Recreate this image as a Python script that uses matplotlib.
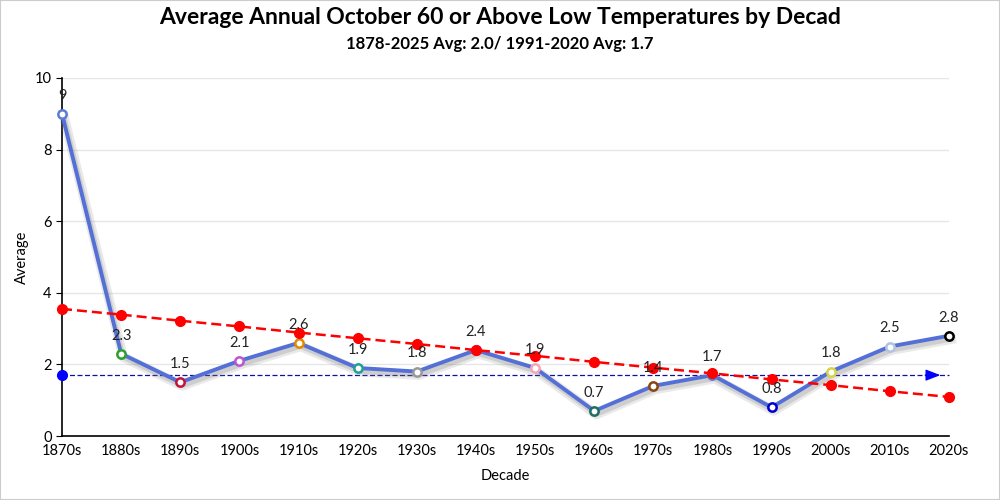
import matplotlib
matplotlib.use("Agg")
import matplotlib.pyplot as plt
import matplotlib.patheffects as pe
from matplotlib.patches import Rectangle

decades = ["1870s", "1880s", "1890s", "1900s", "1910s", "1920s", "1930s", "1940s",
           "1950s", "1960s", "1970s", "1980s", "1990s", "2000s", "2010s", "2020s"]
values = [9, 2.3, 1.5, 2.1, 2.6, 1.9, 1.8, 2.4, 1.9, 0.7, 1.4, 1.7, 0.8, 1.8, 2.5, 2.8]
trend = [3.55, 3.39, 3.22, 3.06, 2.89, 2.73, 2.57, 2.40, 2.24, 2.07, 1.91, 1.75,
         1.58, 1.42, 1.25, 1.09]
normal_avg = 1.7
marker_colors = ["#5b7bd5", "#2ca02c", "#c0143c", "#ba55d3", "#e08a00", "#20a090",
                 "#999999", "#5b7bd5", "#f4a6b8", "#1f6f5f", "#8b4513", "#5b7bd5",
                 "#0000cd", "#d6d645", "#b0c4de", "#000000"]

plt.rcParams['font.family'] = ['Lato', 'DejaVu Sans']

fig = plt.figure(figsize=(10, 5), dpi=100)
fig.patches.append(Rectangle((0, 0), 1, 1, transform=fig.transFigure, fill=False,
                             edgecolor="#cccccc", linewidth=1.5))
ax = fig.add_axes([0.062, 0.128, 0.887, 0.716])

x = list(range(len(decades)))

ax.set_xlim(0, len(decades) - 1)
ax.set_ylim(0, 10)
ax.set_yticks([0, 2, 4, 6, 8, 10])
ax.set_xticks(x)
ax.set_xticklabels(decades)
ax.tick_params(axis='x', length=0, labelsize=10.5, pad=6)
ax.tick_params(axis='y', length=4, labelsize=10.5)
ax.yaxis.grid(True, color="#e6e6e6", linewidth=1)
ax.set_axisbelow(True)
for s in ["top", "right"]:
    ax.spines[s].set_visible(False)
ax.spines["left"].set_linewidth(1.2)
ax.spines["bottom"].set_linewidth(1.2)

# normal average line
ax.plot([x[0], x[-1]], [normal_avg, normal_avg], color="#1010a0", linestyle=(0, (4, 2)),
        linewidth=0.9, zorder=2, clip_on=False)
ax.plot([x[0]], [normal_avg], 'o', color="#0000ff", markersize=7, zorder=3, clip_on=False)
ax.annotate("", xy=(x[-1] - 0.1, normal_avg), xytext=(x[-1] - 0.45, normal_avg),
            arrowprops=dict(arrowstyle="-|>,head_length=0.9,head_width=0.35",
                            color="#0000ff", lw=0.9), zorder=3)

# main series
shadow = [pe.SimpleLineShadow(offset=(1.5, -2.5), shadow_color="#888888", alpha=0.18,
                              linewidth=7),
          pe.SimpleLineShadow(offset=(1.5, -2.5), shadow_color="#666666", alpha=0.2,
                              linewidth=3.5),
          pe.Normal()]
ax.plot(x, values, color="#5470d6", linewidth=2.8, zorder=4, path_effects=shadow,
        clip_on=False)
for xi, v, c in zip(x, values, marker_colors):
    ax.plot([xi], [v], 'o', markersize=6, markerfacecolor="white", markeredgecolor=c,
            markeredgewidth=1.8, zorder=5, clip_on=False)
    ax.annotate(f"{v:g}", (xi, v), xytext=(0, 8), textcoords="offset points",
                ha="center", va="bottom", fontsize=10.5, color="#222222", zorder=8)

# trend line
ax.plot(x, trend, color="#ff0000", linestyle=(0, (4, 2)), linewidth=1.8, zorder=6,
        clip_on=False)
ax.plot(x, trend, 'o', color="#ff0000", markersize=7, zorder=6, clip_on=False)

ax.set_xlabel("Decade", fontsize=10.5, labelpad=8)
ax.set_ylabel("Average", fontsize=10.5, labelpad=4)

fig.text(0.5, 0.965, "Average Annual October 60 or Above Low Temperatures by Decad",
         ha="center", va="center", fontsize=16.5, fontweight="bold")
fig.text(0.5, 0.912, "1878-2025 Avg: 2.0/ 1991-2020 Avg: 1.7",
         ha="center", va="center", fontsize=12, fontweight="bold")

fig.savefig("out.png", dpi=100)
